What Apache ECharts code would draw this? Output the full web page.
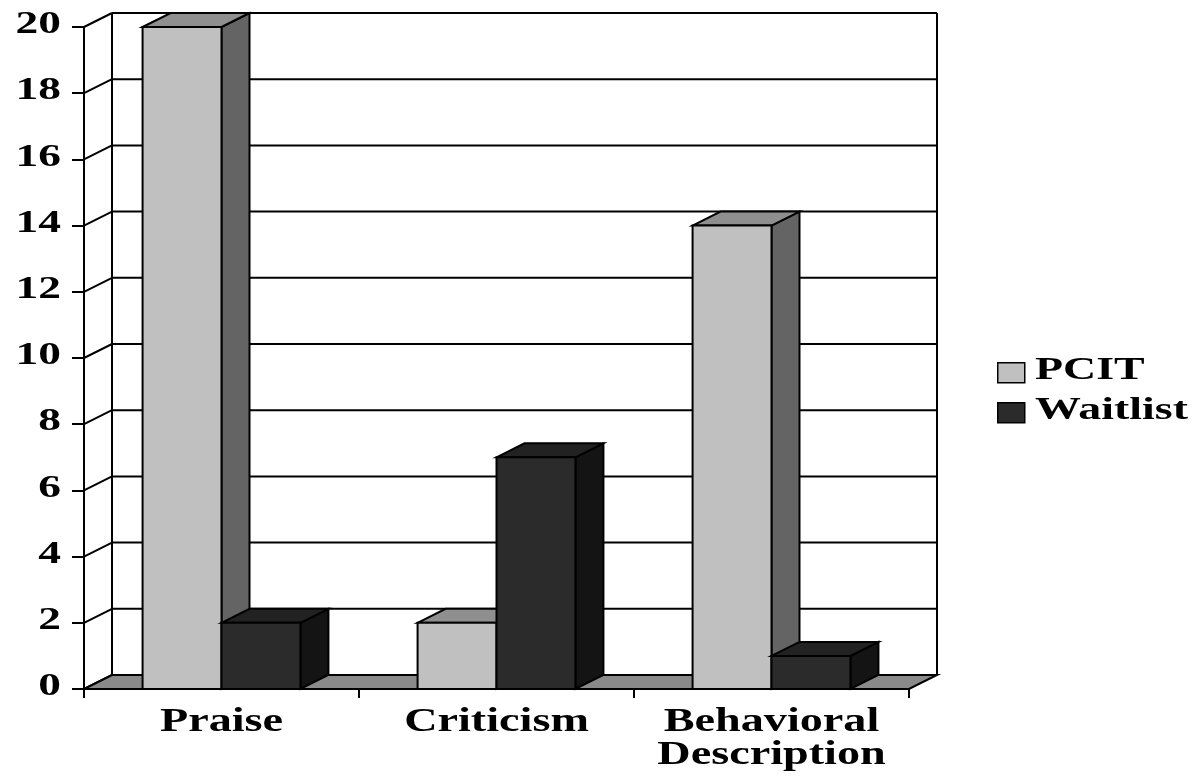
<!DOCTYPE html>
<html><head><meta charset="utf-8">
<script src="https://cdn.jsdelivr.net/npm/echarts@6/dist/echarts.min.js"></script>
<style>html,body{margin:0;padding:0;background:#fff}#main{width:1197px;height:777px}</style>
</head><body><div id="main"></div>
<script>
// ---- data ----
const categories = ['Praise', 'Criticism', 'Behavioral\nDescription'];
const pcitValues = [20, 2, 14];
const waitlistValues = [2, 7, 1];
const yTicks = [0, 2, 4, 6, 8, 10, 12, 14, 16, 18, 20];
const seriesNames = ['PCIT', 'Waitlist'];

// ---- styling ----
const DX = 28, DY = -14;
const FAMILY = '"Liberation Serif", "Times New Roman", serif';
const palette = [
  {front: '#c0c0c0', top: '#8f8f8f', side: '#646464'},
  {front: '#2b2b2b', top: '#222222', side: '#141414'}
];
const STROKE = {stroke: '#000', lineWidth: 2, lineJoin: 'miter'};

function seg(x1, y1, x2, y2) {
  return {type: 'line', shape: {x1, y1, x2, y2}, style: {stroke: '#000', lineWidth: 2}};
}

function frameRender(params, api) {
  const cs = params.coordSys;
  const left = cs.x, right = cs.x + cs.width;
  const y0 = api.coord([0, yTicks[0]])[1];
  const yMax = api.coord([0, yTicks[yTicks.length - 1]])[1];
  const children = [];
  yTicks.forEach(t => {
    const y = api.coord([0, t])[1];
    children.push(seg(left + DX, y + DY, right + DX, y + DY));
    children.push(seg(left, y, left + DX, y + DY));
  });
  children.push(seg(left + DX, y0 + DY, left + DX, yMax + DY));
  children.push(seg(right + DX, y0 + DY, right + DX, yMax + DY));
  children.push({type: 'polygon', shape: {points: [[left, y0], [right, y0], [right + DX, y0 + DY], [left + DX, y0 + DY]]},
    style: Object.assign({fill: '#8a8a8a'}, STROKE)});
  return {type: 'group', children};
}

function barRender(sIdx) {
  return function (params, api) {
    const i = api.value(0), v = api.value(1);
    const top = api.coord([i, v]), base = api.coord([i, 0]);
    const band = api.size([1, 0])[0];
    const w = band * 0.287;
    const x0 = sIdx === 0 ? top[0] - w : top[0];
    const x1 = x0 + w;
    const yt = top[1], yb = base[1];
    const c = palette[sIdx];
    return {type: 'group', children: [
      {type: 'polygon', shape: {points: [[x1, yt], [x1 + DX, yt + DY], [x1 + DX, yb + DY], [x1, yb]]}, style: Object.assign({fill: c.side}, STROKE)},
      {type: 'polygon', shape: {points: [[x0, yt], [x0 + DX, yt + DY], [x1 + DX, yt + DY], [x1, yt]]}, style: Object.assign({fill: c.top}, STROKE)},
      {type: 'rect', shape: {x: x0, y: yt, width: w, height: yb - yt}, style: Object.assign({fill: c.front}, STROKE)}
    ]};
  };
}

function yLabelRender(params, api) {
  const cs = params.coordSys;
  const t = api.value(1);
  const p = api.coord([0, t]);
  return {type: 'text', x: cs.x - 23, y: p[1] - 2, scaleX: 1.42,
    style: {text: String(t), fontFamily: FAMILY, fontWeight: 'bold', fontSize: 32, align: 'right', verticalAlign: 'middle', fill: '#000'}};
}

function xLabelRender(params, api) {
  const i = api.value(0);
  const p = api.coord([i, 0]);
  return {type: 'text', x: p[0], y: p[1] + 17, scaleX: 1.4,
    style: {text: categories[i], fontFamily: FAMILY, fontWeight: 'bold', fontSize: 33, lineHeight: 33, align: 'center', verticalAlign: 'top', fill: '#000'}};
}

const legendGraphics = [];
seriesNames.forEach((name, k) => {
  legendGraphics.push({type: 'rect', left: 997, top: 362 + k * 40, shape: {width: 27, height: 20},
    style: {fill: palette[k].front, stroke: '#000', lineWidth: 1.5}});
  legendGraphics.push({type: 'text', x: 1035, y: 371 + k * 40, scaleX: 1.48,
    style: {text: name, fontFamily: FAMILY, fontWeight: 'bold', fontSize: 31, align: 'left', verticalAlign: 'middle', fill: '#000'}});
});

const chart = echarts.init(document.getElementById('main'), null, {renderer: 'canvas'});
chart.setOption({
  animation: false,
  backgroundColor: '#fff',
  grid: {left: 84, right: 288, top: 27, bottom: 88, containLabel: false},
  xAxis: {type: 'category', data: categories, boundaryGap: true, z: 10,
    axisLine: {show: true, lineStyle: {color: '#000', width: 2}},
    axisTick: {show: true, length: 9, lineStyle: {color: '#000', width: 2}},
    axisLabel: {show: false}, splitLine: {show: false}},
  yAxis: {type: 'value', min: 0, max: 20, interval: 2, z: 10,
    axisLine: {show: true, lineStyle: {color: '#000', width: 2}},
    axisTick: {show: true, length: 12, lineStyle: {color: '#000', width: 2}},
    axisLabel: {show: false}, splitLine: {show: false}},
  graphic: legendGraphics,
  series: [
    {type: 'custom', name: 'frame', silent: true, z: 1, renderItem: frameRender, data: [[0, 0]]},
    {type: 'custom', name: seriesNames[0], z: 3, renderItem: barRender(0), data: pcitValues.map((v, i) => [i, v])},
    {type: 'custom', name: seriesNames[1], z: 4, renderItem: barRender(1), data: waitlistValues.map((v, i) => [i, v])},
    {type: 'custom', name: 'yLabels', silent: true, z: 5, renderItem: yLabelRender, data: yTicks.map(t => [0, t])},
    {type: 'custom', name: 'xLabels', silent: true, z: 5, renderItem: xLabelRender, data: categories.map((c, i) => [i, 0])}
  ]
});
</script>
</body></html>
